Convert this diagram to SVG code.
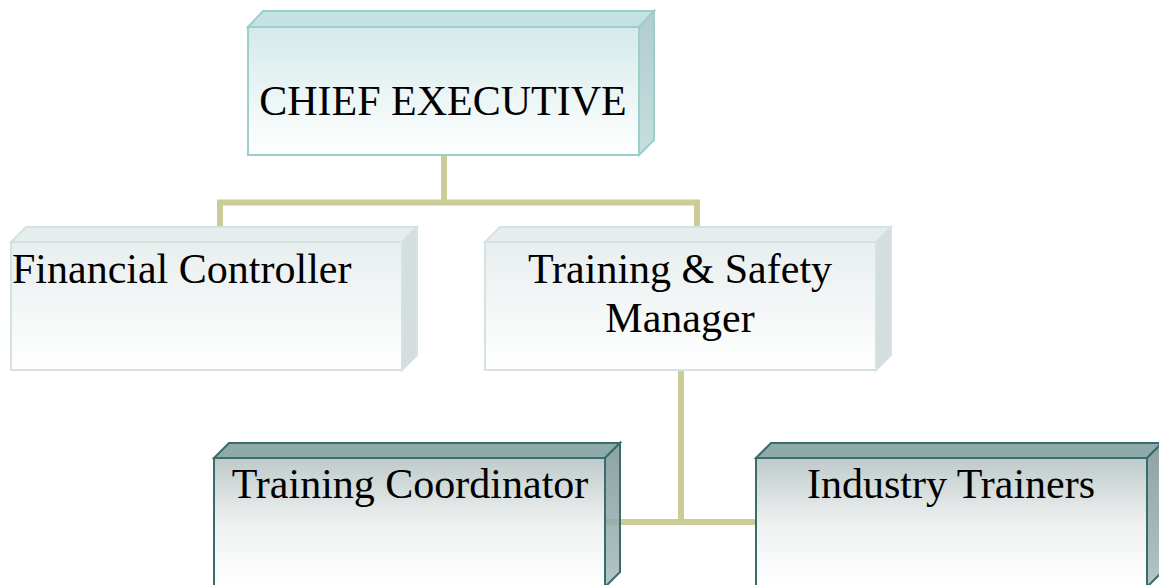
<svg xmlns="http://www.w3.org/2000/svg" width="1159" height="585" viewBox="0 0 1159 585">
<defs>
<linearGradient id="gChief" x1="0" y1="0" x2="0" y2="1"><stop offset="0" stop-color="#d5eaea"/><stop offset="1" stop-color="#ffffff"/></linearGradient>
<linearGradient id="gMid" x1="0" y1="0" x2="0" y2="1"><stop offset="0" stop-color="#e8eeee"/><stop offset="1" stop-color="#ffffff"/></linearGradient>
<linearGradient id="gLow" x1="0" y1="0" x2="0" y2="1"><stop offset="0" stop-color="#bfcaca"/><stop offset="0.5" stop-color="#eef0f0"/><stop offset="1" stop-color="#ffffff"/></linearGradient>
<linearGradient id="gLowSide" x1="0" y1="0" x2="0" y2="1"><stop offset="0" stop-color="#7d9797"/><stop offset="1" stop-color="#a9bdbd"/></linearGradient>
<linearGradient id="gChiefSide" x1="0" y1="0" x2="0" y2="1"><stop offset="0" stop-color="#b0cdcd"/><stop offset="1" stop-color="#c6dede"/></linearGradient>
</defs>
<style>
.lbl{font-family:"Liberation Serif","Times New Roman",serif;font-size:42px;fill:#000}
.conn{stroke:#cccc99;stroke-width:6;fill:none}
.chief .front{fill:url(#gChief);stroke:#9ccfcc;stroke-width:2}
.chief .top{fill:#c4e2e2;stroke:#9ccfcc;stroke-width:2}
.chief .side{fill:url(#gChiefSide);stroke:#9ccfcc;stroke-width:2}
.mid .front{fill:url(#gMid);stroke:#d6e1e1;stroke-width:2}
.mid .top{fill:#e6eded;stroke:#d6e1e1;stroke-width:2}
.mid .side{fill:#d5dede;stroke:#d6e1e1;stroke-width:2}
.low .front{fill:url(#gLow);stroke:#3b6c6c;stroke-width:2}
.low .top{fill:#8eaaaa;stroke:#3b6c6c;stroke-width:2}
.low .side{fill:url(#gLowSide);fill-opacity:0.88;stroke:#3b6c6c;stroke-width:2}
</style>
<rect width="1159" height="585" fill="#ffffff"/>
<g id="connectors">
<path class="conn" d="M444 155 V202.5 M220 227 V202.5 H697 V227"/>
<path class="conn" d="M681 370 V522 M595 522 H757"/>
</g>
<g id="chief" class="chief">
<polygon class="top" points="248,27 263,11 654,11 639,27"/>
<polygon class="side" points="639,27 654,11 654,140 639,155"/>
<rect class="front" x="248" y="27" width="391" height="128"/>
<text class="lbl" x="443" y="115" text-anchor="middle">CHIEF EXECUTIVE</text>
</g>
<g id="financial" class="mid">
<polygon class="top" points="11,242 26,227 417,227 402,242"/>
<polygon class="side" points="402,242 417,227 417,355 402,370"/>
<rect class="front" x="11" y="242" width="391" height="128"/>
<text class="lbl" x="12" y="283">Financial Controller</text>
</g>
<g id="safety" class="mid">
<polygon class="top" points="485,242 500,227 891,227 876,242"/>
<polygon class="side" points="876,242 891,227 891,355 876,370"/>
<rect class="front" x="485" y="242" width="391" height="128"/>
<text class="lbl" x="680" y="283" text-anchor="middle">Training &amp; Safety</text>
<text class="lbl" x="680" y="332" text-anchor="middle">Manager</text>
</g>
<g id="coordinator" class="low">
<polygon class="top" points="214,458 229,443 620,443 605,458"/>
<polygon class="side" points="605,458 620,443 620,572 605,587"/>
<rect class="front" x="214" y="458" width="391" height="129"/>
<text class="lbl" x="410" y="498" text-anchor="middle">Training Coordinator</text>
</g>
<g id="trainers" class="low">
<polygon class="top" points="756,458 771,443 1162,443 1147,458"/>
<polygon class="side" points="1147,458 1162,443 1162,572 1147,587"/>
<rect class="front" x="756" y="458" width="391" height="129"/>
<text class="lbl" x="951" y="498" text-anchor="middle">Industry Trainers</text>
</g>
</svg>
